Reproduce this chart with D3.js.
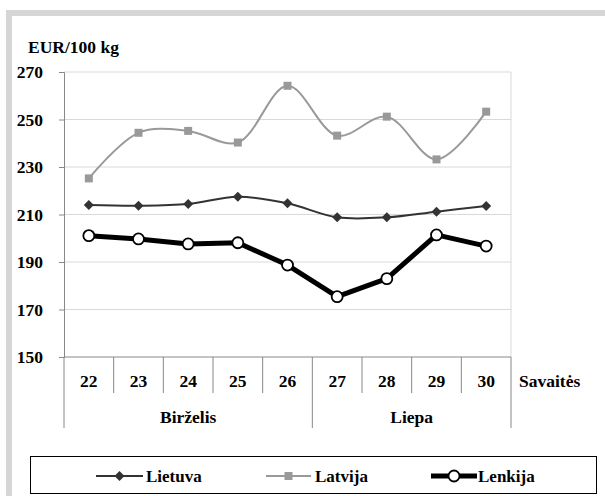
<!DOCTYPE html>
<html><head><meta charset="utf-8">
<script src="https://cdn.jsdelivr.net/npm/d3@7"></script>
</head><body style="margin:0;background:#fff"><svg id="c" width="605" height="496" style="font-family:'Liberation Serif','Times New Roman',serif;font-weight:bold"></svg>
<script>
const weeks = ["22","23","24","25","26","27","28","29","30"];
const months = [{name:"Birželis", from:0, to:5},{name:"Liepa", from:5, to:9}];
const lietuva = [214.0, 213.7, 214.4, 217.5, 214.7, 208.8, 208.8, 211.2, 213.6];
const latvija = [225.2, 244.4, 245.2, 240.3, 264.2, 243.2, 251.2, 233.2, 253.3];
const lenkija = [201.1, 199.7, 197.6, 198.1, 188.7, 175.4, 183.0, 201.4, 196.7];
const yTicks = [150,170,190,210,230,250,270];

const FONT = "Liberation Serif";
const FS = 17.5;
const svg = d3.select("#c");
// frame
svg.append("rect").attr("x",6).attr("y",10).attr("width",620).attr("height",520).attr("fill","#d6d6d6");
svg.append("rect").attr("x",12).attr("y",16).attr("width",620).attr("height",520).attr("fill","#fff");

const L=64, R=511, T=72, B=357;
const x = d3.scaleBand().domain(weeks).range([L,R]);
const y = d3.scaleLinear().domain([150,270]).range([B,T]);

// gridlines
svg.append("g").selectAll("line").data(yTicks.filter(d=>d>150)).join("line")
  .attr("x1",L).attr("x2",R).attr("y1",d=>y(d)).attr("y2",d=>y(d))
  .attr("stroke","#d9d9d9").attr("stroke-width",1);
svg.append("line").attr("x1",R).attr("x2",R).attr("y1",T).attr("y2",B).attr("stroke","#d9d9d9");

// y axis
const ya = svg.append("g").attr("transform",`translate(${L},0)`)
  .call(d3.axisLeft(y).tickValues(yTicks).tickSize(5).tickPadding(16));
ya.attr("font-family",null).attr("font-size",null);
ya.select(".domain").attr("stroke","#888");
ya.selectAll(".tick line").attr("stroke","#888");
ya.selectAll("text").attr("font-size",FS).attr("fill","#000");

// x axis line and separators
svg.append("line").attr("x1",L).attr("x2",R).attr("y1",B).attr("y2",B).attr("stroke","#888");
const seps = weeks.map((w,i)=>i).concat([weeks.length]);
svg.append("g").selectAll("line").data(seps).join("line")
  .attr("x1",i=>i<weeks.length?x(weeks[i]):R).attr("x2",i=>i<weeks.length?x(weeks[i]):R)
  .attr("y1",B).attr("y2",i=>(months.some(m=>m.from===i||m.to===i))?428:393)
  .attr("stroke","#888");
svg.append("g").selectAll("text").data(weeks).join("text")
  .attr("x",d=>x(d)+x.bandwidth()/2).attr("y",381).attr("dy","0.35em")
  .attr("text-anchor","middle").attr("font-size",FS).text(d=>d);
svg.append("g").selectAll("text").data(months).join("text")
  .attr("x",m=>(x(weeks[m.from]) + (m.to<weeks.length?x(weeks[m.to]):R))/2).attr("y",417).attr("dy","0.35em")
  .attr("text-anchor","middle").attr("font-size",FS).text(m=>m.name);
svg.append("text").attr("x",519).attr("y",381).attr("dy","0.35em").attr("font-size",FS).text("Savaitės");
svg.append("text").attr("x",28).attr("y",53).attr("font-size",17.5).text("EUR/100 kg");

const cx = (d,i)=>x(weeks[i])+x.bandwidth()/2;
const lineS = d3.line().x(cx).y(d=>y(d)).curve(d3.curveCatmullRom.alpha(0.5));
const lineL = d3.line().x(cx).y(d=>y(d));

// Latvija
svg.append("path").attr("d",lineS(latvija)).attr("fill","none").attr("stroke","#999").attr("stroke-width",2);
svg.append("g").selectAll("rect").data(latvija).join("rect")
  .attr("x",(d,i)=>cx(d,i)-4).attr("y",d=>y(d)-4).attr("width",8).attr("height",8).attr("fill","#999");
// Lietuva
svg.append("path").attr("d",lineS(lietuva)).attr("fill","none").attr("stroke","#333").attr("stroke-width",2);
svg.append("g").selectAll("path").data(lietuva).join("path")
  .attr("d",(d,i)=>{const a=cx(d,i),b=y(d);return `M${a},${b-5}L${a+5},${b}L${a},${b+5}L${a-5},${b}Z`;}).attr("fill","#333");
// Lenkija
svg.append("path").attr("d",lineL(lenkija)).attr("fill","none").attr("stroke","#000").attr("stroke-width",5).attr("stroke-linejoin","round");
svg.append("g").selectAll("circle").data(lenkija).join("circle")
  .attr("cx",(d,i)=>cx(d,i)).attr("cy",d=>y(d)).attr("r",5.5).attr("fill","#fff").attr("stroke","#000").attr("stroke-width",1.8);

// legend
svg.append("rect").attr("x",30.5).attr("y",456.5).attr("width",566).attr("height",37).attr("fill","#fff").attr("stroke","#000").attr("stroke-width",1);
const ly=476;
const lg = svg.append("g");
const items = [
  {name:"Lietuva", x0:96, x1:143, tx:146, color:"#333", w:2, m:"diamond"},
  {name:"Latvija", x0:266, x1:311, tx:315, color:"#999", w:2, m:"square"},
  {name:"Lenkija", x0:431, x1:477, tx:478, color:"#000", w:5, m:"circle"}
];
items.forEach(it=>{
  lg.append("line").attr("x1",it.x0).attr("x2",it.x1).attr("y1",ly).attr("y2",ly).attr("stroke",it.color).attr("stroke-width",it.w);
  const mx=(it.x0+it.x1)/2;
  if(it.m==="diamond") lg.append("path").attr("d",`M${mx},${ly-5}L${mx+5},${ly}L${mx},${ly+5}L${mx-5},${ly}Z`).attr("fill",it.color);
  if(it.m==="square") lg.append("rect").attr("x",mx-4).attr("y",ly-4).attr("width",8).attr("height",8).attr("fill",it.color);
  if(it.m==="circle") lg.append("circle").attr("cx",mx).attr("cy",ly).attr("r",5.5).attr("fill","#fff").attr("stroke","#000").attr("stroke-width",1.8);
  lg.append("text").attr("x",it.tx).attr("y",ly).attr("dy","0.35em").attr("font-size",17).text(it.name);
});

svg.selectAll("text").attr("font-family",FONT).attr("font-weight","bold").attr("fill","#000");
</script></body></html>
